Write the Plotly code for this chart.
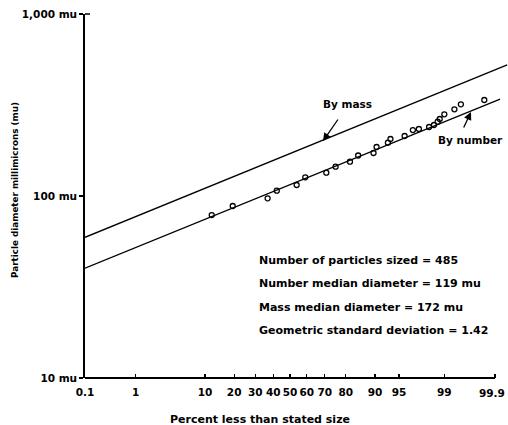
import math
from statistics import NormalDist
import plotly.graph_objects as go

# ---------------- data ----------------
percent_less = [11.9, 19.4, 36.8, 42.1, 54.0, 59.1, 70.8, 75.4, 81.7, 84.8,
                89.6, 90.4, 93.0, 93.5, 95.8, 96.8, 97.4, 98.2, 98.5, 98.7,
                98.8, 99.0, 99.34, 99.50, 99.83]
diameter_mu = [78.6, 88.1, 97.1, 107, 114.9, 126.7, 134.3, 144.9, 154.3, 166.9,
               172.3, 185.9, 196.3, 205.7, 213.6, 230.4, 233.4, 239.4, 245.5, 256.0,
               264.9, 281.1, 299.5, 318.9, 336.9]

mass_line_percent = [0.1, 99.947]
mass_line_diam = [59.3, 525]
number_line_percent = [0.1, 99.923]
number_line_diam = [40.1, 341]

x_tick_percent = [0.1, 1, 10, 20, 30, 40, 50, 60, 70, 80, 90, 95, 99, 99.9]
x_tick_labels = ["0.1", "1", "10", "20", "30", "40", "50", "60", "70", "80",
                 "90", "95", "99", "99.9"]
y_tick_vals = [10, 100, 1000]
y_tick_labels = ["10 mu", "100 mu", "1,000 mu"]

stats_lines = ["Number of particles sized = 485",
               "Number median diameter = 119 mu",
               "Mass median diameter = 172 mu",
               "Geometric standard deviation = 1.42"]

# ---------------- probability scale ----------------
ND = NormalDist()


def probit(p):
    return ND.inv_cdf(p / 100.0)


# page body margin is removed (post_script), so the figure starts at (0, 0)
OX, OY = 0, 0
WIN_W, WIN_H = 508, 425
W, H = WIN_W - OX, WIN_H - OY
PLOT_L, PLOT_R, PLOT_T, PLOT_B = 85, 508, 14, 378   # window pixels
ML, MR = PLOT_L - OX, WIN_W - PLOT_R
MT, MB = PLOT_T - OY, WIN_H - PLOT_B
PW, PH = PLOT_R - PLOT_L, PLOT_B - PLOT_T
zmin = probit(0.1)
px_per_z = 205.0 / probit(99.9)
zmax = zmin + PW / px_per_z


def paper_x(px):
    return (px - PLOT_L) / PW


def paper_y(py):
    return (PLOT_B - py) / PH


FONT = "DejaVu Sans"


def bold(size):
    return dict(family=FONT, size=size, color="black", weight="bold")


def label(text, px, py, size, xanchor="center", **kw):
    return dict(xref="paper", yref="paper", x=paper_x(px), y=paper_y(py),
                xanchor=xanchor, yanchor="middle", text=text,
                showarrow=False, font=bold(size), **kw)


def arrow(px, py, dx, dy):
    return dict(xref="paper", yref="paper", x=paper_x(px), y=paper_y(py),
                text="", showarrow=True, ax=dx, ay=dy, arrowhead=2,
                arrowsize=1.2, arrowwidth=1.3, arrowcolor="black")


fig = go.Figure()

fig.add_trace(go.Scatter(
    x=[probit(p) for p in mass_line_percent], y=mass_line_diam,
    mode="lines", line=dict(color="black", width=1.3), showlegend=False,
    hoverinfo="skip"))
fig.add_trace(go.Scatter(
    x=[probit(p) for p in number_line_percent], y=number_line_diam,
    mode="lines", line=dict(color="black", width=1.3), showlegend=False,
    hoverinfo="skip"))
fig.add_trace(go.Scatter(
    x=[probit(p) for p in percent_less], y=diameter_mu,
    mode="markers",
    marker=dict(symbol="circle-open", size=5, color="black",
                line=dict(color="black", width=1.3)),
    showlegend=False))

# x axis baseline from 0.1 to 99.9
fig.add_shape(type="line", xref="x", yref="paper",
              x0=probit(0.1), x1=probit(99.9), y0=0, y1=0,
              line=dict(color="black", width=1.8))
# short inward tick at the top of the y axis (1,000 mu)
fig.add_shape(type="line", xref="paper", yref="paper",
              x0=0, x1=paper_x(PLOT_L + 5), y0=1, y1=1,
              line=dict(color="black", width=1.5))

annos = [
    label("By mass", 347, 104, 10.5),
    arrow(323, 141, 16, -23),
    label("By number", 470, 140, 10.5),
    arrow(471, 112, -8, 17),
]
for txt, py in zip(stats_lines, [260, 283, 307, 330]):
    annos.append(label(txt, 257, py, 11, xanchor="left"))
# last x tick label placed by hand so it is not cut at the edge
annos.append(label(x_tick_labels[-1], 492, 393, 10.5))
annos.append(label("Particle diameter millimicrons (mu)", 15, 190, 8.8,
                   textangle=-90))
annos.append(label("Percent less than stated size", 260, 419, 11))

fig.update_layout(
    width=W, height=H,
    margin=dict(l=ML, r=MR, t=MT, b=MB, autoexpand=False),
    paper_bgcolor="white", plot_bgcolor="white",
    annotations=annos,
    hovermode=False,
    xaxis=dict(range=[zmin, zmax], tickvals=[probit(p) for p in x_tick_percent],
               ticktext=x_tick_labels[:-1] + [""], ticks="inside", ticklen=4,
               tickcolor="black", tickwidth=1.3, showline=False,
               showgrid=False, zeroline=False, automargin=False,
               ticklabelstandoff=6, tickfont=bold(10.5)),
    yaxis=dict(type="log", range=[1, 3], tickvals=y_tick_vals,
               ticktext=y_tick_labels, ticks="outside", ticklen=4,
               tickcolor="black", tickwidth=1.3, showline=True,
               linecolor="black", linewidth=1.8, showgrid=False,
               zeroline=False, automargin=False, ticklabeloverflow="allow",
               tickfont=bold(10.5)),
)

fig.write_html(
    "out.html",
    config={"displayModeBar": False, "staticPlot": True},
    post_script="document.body.style.margin='0';"
                "document.body.style.overflow='hidden';")
